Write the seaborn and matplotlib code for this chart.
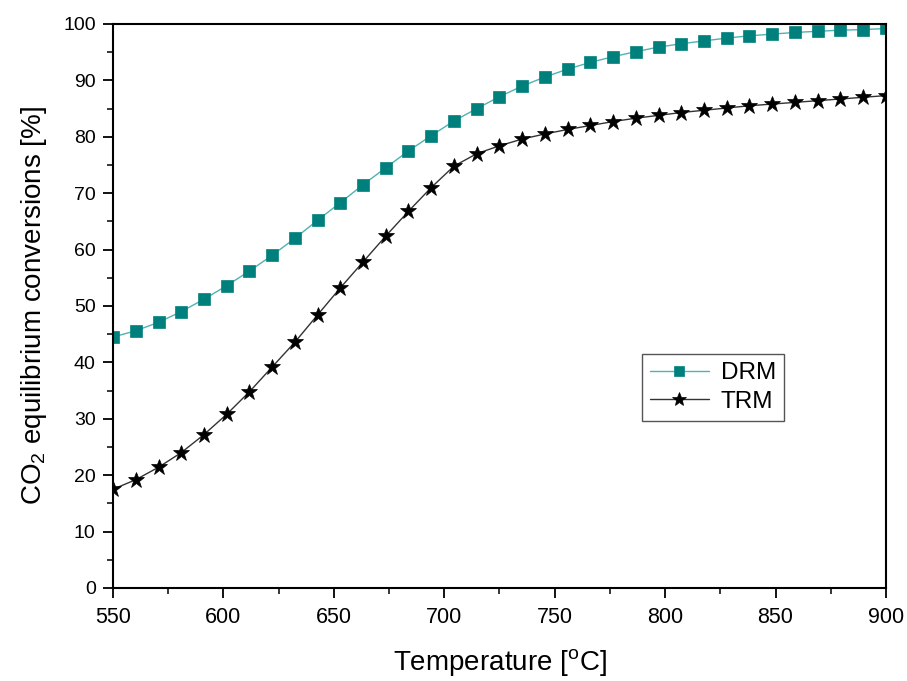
import matplotlib
matplotlib.use("Agg")
import matplotlib.pyplot as plt
import seaborn as sns
import pandas as pd
from matplotlib.ticker import MultipleLocator

temperature = [550.0, 560.3, 570.6, 580.9, 591.2, 601.5, 611.8, 622.1, 632.4, 642.6,
               652.9, 663.2, 673.5, 683.8, 694.1, 704.4, 714.7, 725.0, 735.3, 745.6,
               755.9, 766.2, 776.5, 786.8, 797.1, 807.4, 817.6, 827.9, 838.2, 848.5,
               858.8, 869.1, 879.4, 889.7, 900.0]
drm = [44.5, 45.6, 47.1, 49.0, 51.2, 53.6, 56.2, 59.0, 62.0, 65.2,
       68.3, 71.5, 74.5, 77.5, 80.2, 82.8, 85.0, 87.1, 89.0, 90.6,
       92.0, 93.2, 94.2, 95.1, 95.9, 96.5, 97.0, 97.5, 97.9, 98.2,
       98.5, 98.7, 98.9, 99.0, 99.2]
trm = [17.5, 19.2, 21.4, 24.0, 27.2, 30.8, 34.8, 39.2, 43.6, 48.4,
       53.2, 57.8, 62.4, 66.8, 71.0, 74.8, 77.0, 78.4, 79.6, 80.5,
       81.3, 82.0, 82.7, 83.3, 83.8, 84.3, 84.7, 85.1, 85.5, 85.8,
       86.1, 86.4, 86.7, 87.0, 87.3]
series_names = ["DRM", "TRM"]
x_ticks = [550, 600, 650, 700, 750, 800, 850, 900]
y_ticks = [0, 10, 20, 30, 40, 50, 60, 70, 80, 90, 100]

sns.set_theme(style="ticks")
plt.rcParams['font.family'] = ['Liberation Sans', 'DejaVu Sans']
plt.rcParams['mathtext.fontset'] = 'custom'
plt.rcParams['mathtext.rm'] = 'Liberation Sans'
plt.rcParams['mathtext.it'] = 'Liberation Sans:italic'
plt.rcParams['text.color'] = 'black'
plt.rcParams['axes.labelcolor'] = 'black'
plt.rcParams['xtick.color'] = 'black'
plt.rcParams['ytick.color'] = 'black'

df_drm = pd.DataFrame({"T": temperature, "X": drm})
df_trm = pd.DataFrame({"T": temperature, "X": trm})

fig = plt.figure(figsize=(9.07, 6.81), dpi=100)
ax = fig.add_axes([0.1246, 0.1366, 0.8522, 0.8282])

sns.lineplot(data=df_drm, x="T", y="X", ax=ax, color="#4fb3b0", lw=1.0,
             marker="s", markersize=8.5, markerfacecolor="#00807d",
             markeredgecolor="#00807d", markeredgewidth=0.5, label=series_names[0])
sns.lineplot(data=df_trm, x="T", y="X", ax=ax, color="#333333", lw=1.0,
             marker="*", markersize=12, markerfacecolor="black",
             markeredgecolor="black", markeredgewidth=0.5, label=series_names[1])

ax.set_xlim(550, 900)
ax.set_ylim(0, 100)
ax.set_xticks(x_ticks)
ax.set_yticks(y_ticks)
ax.xaxis.set_minor_locator(MultipleLocator(25))
ax.yaxis.set_minor_locator(MultipleLocator(5))
ax.tick_params(axis='both', which='major', direction='out', length=7.5, width=1.3, pad=5)
ax.tick_params(axis='x', which='major', labelsize=15.5, pad=6)
ax.tick_params(axis='y', which='major', labelsize=14)
ax.tick_params(axis='both', which='minor', direction='out', length=4, width=1.1)
ax.tick_params(top=False, right=False, which='both')
for s in ax.spines.values():
    s.set_visible(True)
    s.set_linewidth(1.5)
    s.set_color('black')

ax.set_xlabel(r"Temperature [$^{\mathrm{o}}$C]", fontsize=20, labelpad=14)
ax.set_ylabel(r"CO$_2$ equilibrium conversions [%]", fontsize=20, labelpad=10)

leg = ax.legend(loc='upper left', bbox_to_anchor=(0.684, 0.415), borderaxespad=0,
                fontsize=17.5, frameon=True, fancybox=False, framealpha=1,
                edgecolor='#555555', handlelength=2.4, borderpad=0.35,
                labelspacing=0.25, handletextpad=0.5, markerscale=0.9)
leg.get_frame().set_linewidth(1.0)

fig.savefig("out.png", dpi=100)
